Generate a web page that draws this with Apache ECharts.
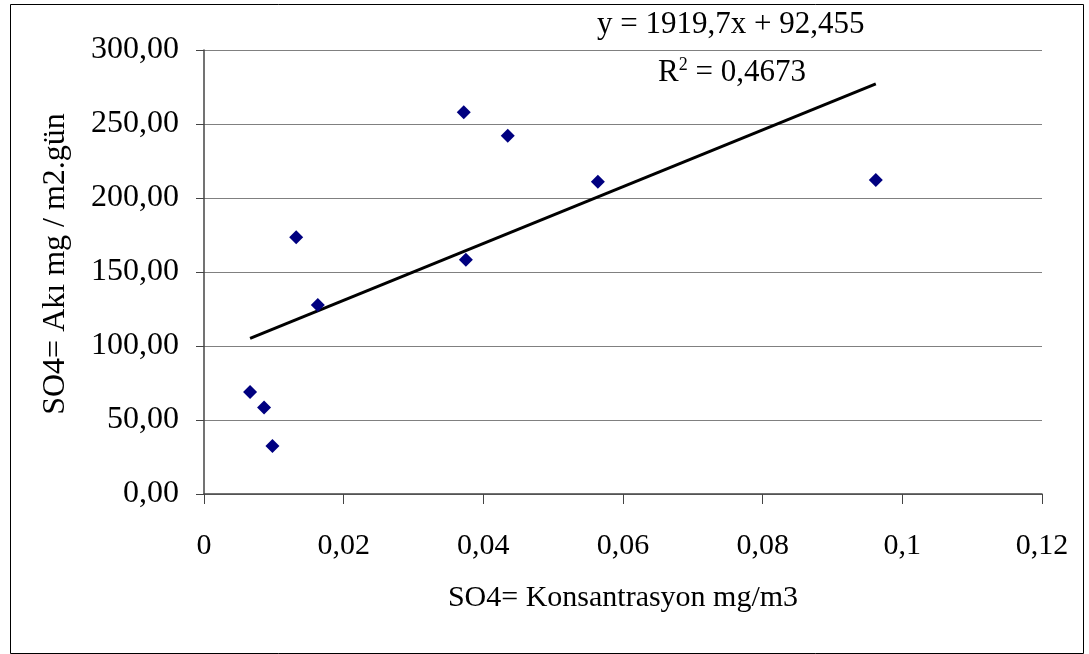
<!DOCTYPE html>
<html>
<head>
<meta charset="utf-8">
<script src="https://cdn.jsdelivr.net/npm/echarts@6/dist/echarts.min.js"></script>
<style>html,body{margin:0;padding:0;background:#fff}#c{width:1089px;height:654px}</style>
</head>
<body>
<div id="c"></div>
<script>
const concentration = [0.0066, 0.0086, 0.0098, 0.0132, 0.0163, 0.0372, 0.0375, 0.0435, 0.0564, 0.0962];
const flux = [69.0, 58.5, 32.5, 173.5, 127.7, 258.0, 158.3, 242.0, 211.0, 212.2];
const xTicks = [0, 0.02, 0.04, 0.06, 0.08, 0.1, 0.12];
const yTicks = [0, 50, 100, 150, 200, 250, 300];
const slope = 1919.7, intercept = 92.455, r2 = '0,4673';
const xName = 'SO4= Konsantrasyon mg/m3';
const yName = 'SO4= Akı mg / m2.gün';

const points = concentration.map((x, i) => [x, flux[i]]);
const xmin = Math.min(...concentration), xmax = Math.max(...concentration);
const trend = [[xmin, slope * xmin + intercept], [xmax, slope * xmax + intercept]];
const serif = 'Liberation Serif';
const FS = 30;

const chart = echarts.init(document.getElementById('c'));
chart.setOption({
  animation: false,
  backgroundColor: '#fff',
  grid: { left: 204, right: 47, top: 50, bottom: 160 },
  xAxis: {
    type: 'value', min: xTicks[0], max: xTicks[xTicks.length - 1], interval: 0.02,
    name: xName, nameLocation: 'middle', nameGap: 89,
    nameTextStyle: { fontFamily: serif, fontSize: FS, color: '#000' },
    axisLine: { show: true, lineStyle: { color: '#444', width: 1.5 } },
    axisTick: { show: true, length: 10, lineStyle: { color: '#444' } },
    splitLine: { show: false },
    axisLabel: { margin: 37, fontFamily: serif, fontSize: FS, color: '#000',
      formatter: v => String(+v.toFixed(2)).replace('.', ',') }
  },
  yAxis: {
    type: 'value', min: yTicks[0], max: yTicks[yTicks.length - 1], interval: 50,
    axisLine: { show: true, lineStyle: { color: '#444', width: 1.5 } },
    axisTick: { show: true, inside: false, length: 8, lineStyle: { color: '#444' } },
    splitLine: { show: true, lineStyle: { color: '#808080', width: 1 } },
    axisLabel: { margin: 25, fontFamily: serif, fontSize: 32, color: '#000',
      formatter: v => v.toFixed(2).replace('.', ',') }
  },
  series: [
    { type: 'line', data: trend, symbol: 'none', lineStyle: { color: '#000', width: 3 }, z: 2 },
    { type: 'scatter', data: points, symbol: 'diamond', symbolSize: 14,
      itemStyle: { color: '#000080', opacity: 1 }, z: 3 }
  ],
  graphic: [
    { type: 'rect', left: 8, top: 2, shape: { width: 1073, height: 649 },
      style: { fill: 'none', stroke: '#000', lineWidth: 1 }, silent: true },
    { type: 'text', x: 56, y: 264, rotation: Math.PI / 2,
      style: { text: yName, font: '32px "Liberation Serif"', fill: '#000',
        align: 'center', verticalAlign: 'middle' } },
    { type: 'text', left: 597, top: 9,
      style: { text: 'y = ' + String(slope).replace('.', ',') + 'x + ' + String(intercept).replace('.', ','),
        font: '31px "Liberation Serif"', fill: '#000' } },
    { type: 'text', left: 658, top: 56,
      style: { text: '{a|R}{s|2}{a| = ' + r2 + '}',
        rich: { a: { fontFamily: serif, fontSize: 31, fill: '#000', verticalAlign: 'bottom' },
                s: { fontFamily: serif, fontSize: 18, fill: '#000', verticalAlign: 'top', padding: [0, 0, 14, 0] } } } }
  ]
});
</script>
</body>
</html>
